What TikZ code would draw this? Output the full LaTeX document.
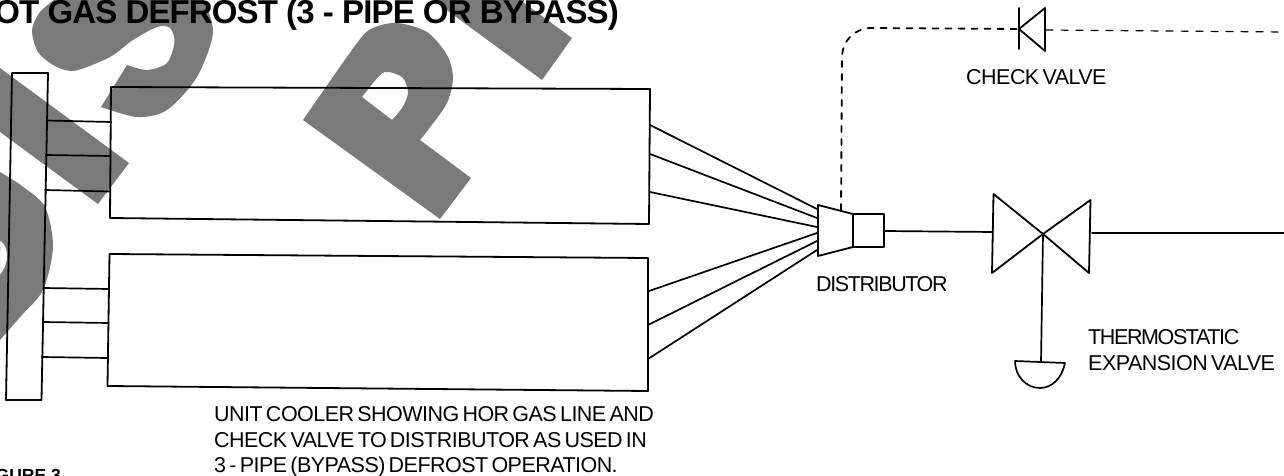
\documentclass[tikz,border=0pt]{standalone}
\usepackage{fontspec}
\setmainfont{Liberation Sans}
\newfontfamily\tightfont[WordSpace=0.6,LetterSpace=-2.5]{Liberation Sans}
\newfontfamily\tighterfont[WordSpace=0.6,LetterSpace=-6.5]{Liberation Sans}
\newfontfamily\titlefont[LetterSpace=-2.7]{Liberation Sans}
\definecolor{stampgray}{gray}{0.48}
\tikzset{
  stamp/.style={fill=stampgray,draw=none},
  pipe/.style={line width=1.7pt},
  coilbox/.style={line width=1.8pt},
  thindash/.style={line width=1.2pt,dash pattern=on 7pt off 8pt},
  hotdash/.style={line width=1.8pt,dash pattern=on 6pt off 7pt},
  label/.style={anchor=base west,inner sep=0pt,font=\tightfont\fontsize{21.5}{24}\selectfont},
  tightlabel/.style={label,font=\tighterfont\fontsize{21.5}{24}\selectfont},
  headline/.style={anchor=base east,inner sep=0pt,font=\titlefont\fontsize{33}{36}\selectfont\bfseries}
}
\begin{document}
\begin{tikzpicture}[x=1pt,y=-1pt, line cap=round, line join=round]
  \useasboundingbox (0,0) rectangle (1284,476);

  % stamp letters behind the drawing
  \fill[stamp,even odd rule] plot[smooth] coordinates {(0,172) (22,186) (45,207) (53,247) (43,290) (22,315) (0,340)}
    -- cycle
    (0,240) .. controls (5,244) and (7,249) .. (7,256) .. controls (7,264) and (4,270) .. (0,275) -- cycle;
  \fill[stamp] (0,68) -- (129,163) -- (98,204) -- (0,132) -- cycle;
  \fill[stamp] plot[smooth] coordinates {(54,0) (40,12) (32,30) (38,52) (55,66) (75,70.7) (110,57) (133,40) (157,27) (170,28) (174.5,42) (167,63) (147,70) (127,65)}
    -- plot[smooth] coordinates {(101,107) (137,117) (167,110) (197,77) (213,33) (204,0)} -- cycle;
  \fill[stamp,even odd rule] plot[smooth] coordinates {(303,120) (357,43) (373,28) (397,23) (427,32) (447,55) (453,78) (447,103) (428,130) (420,140)}
    -- (471,178) -- (440,219) -- cycle
    plot[smooth] coordinates {(362,97) (380,75) (389,72) (403,78) (408,93) (402,108) (392,120)} -- cycle;
  \fill[stamp] (433,0) -- (520,0) -- (572,38) -- (542,80) -- cycle;

  % header
  \coordinate (hdrA) at (12,73);
  \coordinate (hdrB) at (48,73);
  \coordinate (hdrC) at (41.5,400);
  \coordinate (hdrD) at (6,400);
  \draw[coilbox] (hdrA) -- (hdrB) -- (hdrC) -- (hdrD) -- cycle;

  % coils
  \coordinate (coilA) at (111,87);
  \coordinate (coilB) at (650,89);
  \coordinate (coilC) at (649,224);
  \coordinate (coilD) at (110,218);
  \draw[coilbox] (coilA) -- (coilB) -- (coilC) -- (coilD) -- cycle;
  \coordinate (lowA) at (109.5,254);
  \coordinate (lowB) at (648,258);
  \coordinate (lowC) at (648,391);
  \coordinate (lowD) at (107.5,386);
  \draw[coilbox] (lowA) -- (lowB) -- (lowC) -- (lowD) -- cycle;

  % stubs header to coil
  \foreach \xa/\ya/\xb/\yb in {47/120.5/111/122, 46/155/110/156, 45/190/110/191.5, 43.5/288/109/289, 43/322/108.5/323, 42/357/108/358}
    \draw[pipe] (\xa,\ya) -- (\xb,\yb);

  % distributor
  \coordinate (distA) at (818,205);
  \coordinate (distB) at (853,214);
  \coordinate (distC) at (853,247);
  \coordinate (distD) at (818,256);
  \coordinate (neckB) at (884,214);
  \coordinate (neckC) at (884,247);
  \draw[coilbox] (distA) -- (distB) -- (distC) -- (distD) -- cycle;
  \draw[coilbox] (distB) -- (neckB) -- (neckC) -- (distC);

  % feeders
  \foreach \xa/\ya/\yb in {650/125/209, 650/154/218, 650/192/227, 649/291/233, 648/325/241, 648/359/250}
    \draw[pipe] (\xa,\ya) -- (817,\yb);

  % expansion valve
  \coordinate (txvM) at (1043,234);
  \draw[coilbox] (txvM) -- (993.5,194) -- (992,273) -- cycle;
  \draw[coilbox] (txvM) -- (1090.5,200) -- (1089,273) -- cycle;
  \draw[pipe] (885,231) -- (993,232);
  \draw[line width=2pt] (1092,233) -- (1284,233);

  % bulb
  \coordinate (bulbA) at (1015,361);
  \coordinate (bulbB) at (1065,363);
  \draw[pipe] (txvM) -- (1041,362);
  \draw[pipe] (bulbA) -- (bulbB) .. controls (1062,378) and (1052,388) .. (1040,388)
    .. controls (1026,388) and (1015,376) .. (bulbA);

  % check valve
  \coordinate (chkM) at (1019,29);
  \draw[coilbox] (1019,8) -- (1019,49);
  \draw[coilbox] (chkM) -- (1045,8) -- (1045,51) -- cycle;
  \draw[hotdash] (841,210) -- (842,58) .. controls (842,40) and (855,28) .. (872,28) -- (chkM);
  \draw[thindash] (1046,30) -- (1284,32);

  % texts
  \node[headline] (title) at (619,24) {HOT GAS DEFROST (3 - PIPE OR BYPASS)};
  \node[anchor=base east,inner sep=0pt,font=\fontsize{17.5}{20}\selectfont\bfseries] (fig) at (61,481) {FIGURE 3};
  \node[label] (chklab) at (966,85) {CHECK VALVE};
  \node[tightlabel] (distlab) at (816,291) {DISTRIBUTOR};
  \node[tightlabel] (txvlab) at (1088,344) {THERMOSTATIC};
  \node[label] (txvlabb) at (1088,370) {EXPANSION VALVE};
  \node[label] (capa) at (214,421) {UNIT COOLER SHOWING HOR GAS LINE AND};
  \node[label] (capb) at (214,447) {CHECK VALVE TO DISTRIBUTOR AS USED IN};
  \node[label] (capc) at (214,472) {3 - PIPE (BYPASS) DEFROST OPERATION.};
\end{tikzpicture}
\end{document}
